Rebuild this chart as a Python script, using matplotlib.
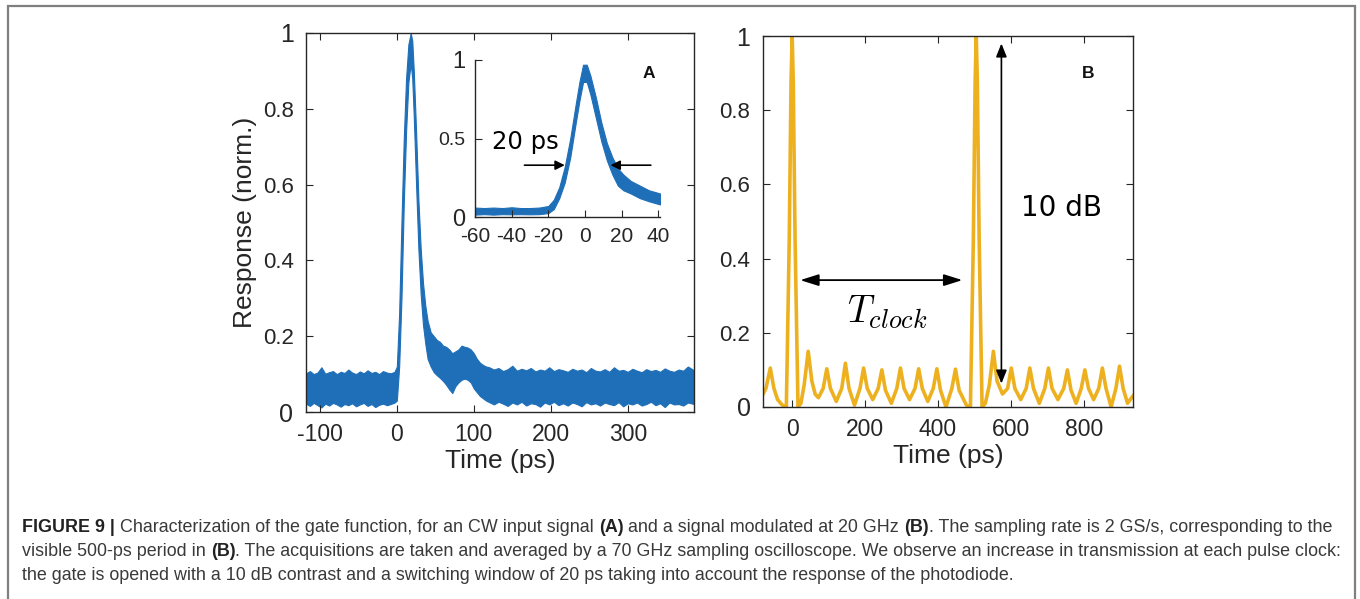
import matplotlib
matplotlib.use('Agg')
import matplotlib.pyplot as plt
from matplotlib.patches import Rectangle

plt.rcParams['mathtext.fontset'] = 'cm'
plt.rcParams['font.family'] = ['Liberation Sans', 'DejaVu Sans']

W, H = 1360, 599
BLUE = '#1f6fb8'
GOLD = '#EDB120'
AXC = '#262626'

# ---------------- Panel A (main): envelope of the noisy trace ----------------
A_t = [-118, -113, -108, -103, -98, -93, -88, -83, -78, -73, -68, -63, -58, -53, -48, -43,
       -38, -33, -28, -23, -18, -13, -8, -3,
       0, 3, 6, 9, 12, 15, 18, 20, 22, 25, 28, 31, 34, 37, 40, 44, 48, 52, 56, 60, 64, 68,
       72, 76, 80, 84, 88, 92, 96, 100, 104, 108, 112, 116,
       120, 126, 132, 138, 144, 150, 156, 162, 168, 174, 180, 186, 192, 198, 204, 210, 216,
       222, 228, 234, 240, 246, 252, 258, 264, 270, 276, 282, 288, 294, 300, 306, 312, 318,
       324, 330, 336, 342, 348, 354, 360, 366, 372, 378, 386]
A_hi = [0.102, 0.108, 0.100, 0.104, 0.118, 0.101, 0.105, 0.108, 0.100, 0.106, 0.103, 0.112, 0.104, 0.100, 0.107, 0.102,
        0.110, 0.103, 0.106, 0.100, 0.108, 0.104, 0.102, 0.106,
        0.12, 0.26, 0.50, 0.72, 0.88, 0.97, 1.00, 0.98, 0.90, 0.74, 0.56, 0.43, 0.34, 0.28, 0.24, 0.21, 0.20, 0.19, 0.185, 0.175, 0.172, 0.165,
        0.155, 0.16, 0.165, 0.175, 0.172, 0.17, 0.165, 0.155, 0.14, 0.13, 0.124, 0.12,
        0.118, 0.112, 0.116, 0.108, 0.113, 0.122, 0.109, 0.114, 0.110, 0.116, 0.107, 0.112, 0.109, 0.118, 0.108, 0.113, 0.110,
        0.106, 0.114, 0.109, 0.112, 0.105, 0.116, 0.109, 0.107, 0.113, 0.106, 0.118, 0.109, 0.111, 0.106, 0.114, 0.109, 0.105,
        0.113, 0.108, 0.111, 0.106, 0.115, 0.109, 0.106, 0.112, 0.109, 0.12, 0.11]
A_lo = [0.022, 0.016, 0.024, 0.018, 0.012, 0.022, 0.017, 0.024, 0.02, 0.014, 0.021, 0.018, 0.023, 0.015, 0.02, 0.024,
        0.016, 0.021, 0.013, 0.019, 0.022, 0.018, 0.021, 0.025,
        0.03, 0.12, 0.30, 0.55, 0.74, 0.87, 0.92, 0.88, 0.78, 0.60, 0.43, 0.31, 0.23, 0.18, 0.14, 0.12, 0.105, 0.097, 0.09, 0.082, 0.072, 0.06,
        0.05, 0.068, 0.078, 0.085, 0.088, 0.085, 0.078, 0.062, 0.052, 0.042, 0.036, 0.03,
        0.026, 0.02, 0.027, 0.022, 0.016, 0.025, 0.02, 0.027, 0.017, 0.023, 0.021, 0.014, 0.025, 0.02, 0.027, 0.018, 0.023,
        0.017, 0.025, 0.021, 0.015, 0.026, 0.02, 0.023, 0.017, 0.025, 0.021, 0.018, 0.026, 0.015, 0.023, 0.02, 0.025, 0.017,
        0.021, 0.027, 0.018, 0.023, 0.013, 0.025, 0.02, 0.021, 0.017, 0.025, 0.021]
A_xticks = [-100, 0, 100, 200, 300]
A_yticks = [0, 0.2, 0.4, 0.6, 0.8, 1]
A_yticklabels = ['0', '0.2', '0.4', '0.6', '0.8', '1']

# ---------------- Panel A inset ----------------
I_t = [-60, -55, -50, -45, -40, -35, -30, -25, -20, -17, -14, -11, -8, -5, -3, -1, 1, 3, 6, 9,
       12, 15, 18, 21, 25, 30, 35, 41]
I_hi = [0.06, 0.057, 0.06, 0.057, 0.062, 0.057, 0.057, 0.06, 0.07, 0.11, 0.19, 0.32, 0.50, 0.72, 0.86, 0.97, 0.97, 0.90, 0.76, 0.60,
        0.47, 0.38, 0.31, 0.27, 0.23, 0.20, 0.17, 0.15]
I_lo = [0.015, 0.018, 0.015, 0.018, 0.017, 0.018, 0.017, 0.018, 0.025, 0.05, 0.12, 0.22, 0.38, 0.60, 0.74, 0.86, 0.86, 0.78, 0.63, 0.48,
        0.36, 0.27, 0.20, 0.17, 0.15, 0.12, 0.10, 0.08]
I_xticks = [-60, -40, -20, 0, 20, 40]
I_yticks = [0, 0.5, 1]
I_yticklabels = ['0', '0.5', '1']

# ---------------- Panel B ----------------
B_t = [-80, -72, -60, -50, -40, -27, -16, -8, -3, 0, 3, 8, 16, 24, 33, 44, 54, 63, 72, 85,
       95, 105, 121, 136, 146, 156, 171, 186, 196, 206, 221, 236, 246, 256, 272, 287, 297, 307,
       322, 337, 347, 357, 372, 387, 397, 407, 422, 438, 448, 458, 478, 489, 497, 502, 505, 508,
       513, 521, 530, 541, 552, 562, 577, 591, 601, 611, 627, 642, 652, 662, 678, 693, 703, 713,
       729, 745, 755, 765, 779, 793, 803, 813, 827, 841, 851, 861, 875, 888, 898, 908, 920, 935]
B_v = [0.035, 0.05, 0.105, 0.05, 0.02, 0.005, 0.0, 0.45, 0.88, 1.0, 0.88, 0.45, 0.0, 0.01, 0.06, 0.15, 0.07, 0.035, 0.025, 0.05,
       0.103, 0.05, 0.015, 0.05, 0.118, 0.05, 0.005, 0.05, 0.105, 0.05, 0.02, 0.05, 0.10, 0.045, 0.01, 0.05, 0.105, 0.05,
       0.02, 0.05, 0.103, 0.05, 0.015, 0.05, 0.103, 0.045, 0.0, 0.05, 0.102, 0.045, 0.005, 0.0, 0.45, 0.88, 1.0, 0.88,
       0.45, 0.0, 0.01, 0.06, 0.15, 0.07, 0.035, 0.05, 0.105, 0.05, 0.02, 0.05, 0.105, 0.05, 0.01, 0.05, 0.105, 0.05,
       0.02, 0.05, 0.10, 0.045, 0.01, 0.05, 0.10, 0.05, 0.02, 0.05, 0.105, 0.05, 0.0, 0.05, 0.11, 0.05, 0.01, 0.03]
B_xticks = [0, 200, 400, 600, 800]
B_yticks = [0, 0.2, 0.4, 0.6, 0.8, 1]
B_yticklabels = ['0', '0.2', '0.4', '0.6', '0.8', '1']

fig = plt.figure(figsize=(W / 100, H / 100), dpi=100)
fig.patch.set_facecolor('white')


def style(ax, box=True):
    for s in ax.spines.values():
        s.set_color(AXC)
        s.set_linewidth(1.0)
    if not box:
        ax.spines['top'].set_visible(False)
        ax.spines['right'].set_visible(False)
    ax.tick_params(direction='in', length=5, width=0.8, colors=AXC,
                   top=box, right=box, labelcolor=AXC)


def size_labels(ax, big, small):
    for lab in ax.get_yticklabels():
        txt = lab.get_text()
        lab.set_fontsize(big if txt in ('0', '1') else small)


# Panel A main
axA = fig.add_axes([306 / W, 1 - 412 / H, 388 / W, 379 / H])
axA.fill_between(A_t, A_lo, A_hi, color=BLUE, edgecolor=BLUE, linewidth=0.8)
axA.set_xlim(-118, 386)
axA.set_ylim(0, 1)
axA.set_xticks(A_xticks)
axA.set_xticklabels([str(v) for v in A_xticks], fontsize=16.5)
axA.set_yticks(A_yticks)
axA.set_yticklabels(A_yticklabels)
style(axA)
size_labels(axA, 18, 16)
axA.tick_params(axis='y', pad=9)
axA.tick_params(axis='x', pad=8)
axA.set_xlabel('Time (ps)', fontsize=19, color=AXC, labelpad=2)
axA.set_ylabel('Response (norm.)', fontsize=19, color=AXC, labelpad=4)

# Inset
axI = fig.add_axes([475 / W, 1 - 217 / H, 185 / W, 157 / H])
axI.fill_between(I_t, I_lo, I_hi, color=BLUE, edgecolor=BLUE, linewidth=0.8)
axI.set_xlim(-60, 41)
axI.set_ylim(0, 1)
axI.set_xticks(I_xticks)
axI.set_xticklabels([str(v) for v in I_xticks], fontsize=15)
axI.set_yticks(I_yticks)
axI.set_yticklabels(I_yticklabels)
style(axI, box=False)
size_labels(axI, 17, 14)
axI.tick_params(axis='y', pad=7)
axI.tick_params(axis='x', pad=7)
axI.annotate('', xy=(-11, 0.33), xytext=(-33, 0.33),
             arrowprops=dict(arrowstyle='-|>', color='black', lw=1.2, mutation_scale=14,
                             shrinkA=0, shrinkB=0))
axI.annotate('', xy=(14, 0.33), xytext=(36, 0.33),
             arrowprops=dict(arrowstyle='-|>', color='black', lw=1.2, mutation_scale=14,
                             shrinkA=0, shrinkB=0))
axI.text(-32.7, 0.478, '20 ps', fontsize=17.5, family='DejaVu Sans', ha='center', va='center',
         color='black', clip_on=False)
fig.text(649 / W, 1 - 73 / H, 'A', fontsize=12.5, fontweight='bold', ha='center', va='center',
         color='#111111')

# Panel B
axB = fig.add_axes([763 / W, 1 - 407 / H, 370 / W, 371 / H])
axB.plot(B_t, B_v, color=GOLD, lw=2.6, solid_joinstyle='round')
axB.set_xlim(-80, 935)
axB.set_ylim(0, 1)
axB.set_xticks(B_xticks)
axB.set_xticklabels([str(v) for v in B_xticks], fontsize=16.5)
axB.set_yticks(B_yticks)
axB.set_yticklabels(B_yticklabels)
style(axB)
size_labels(axB, 18, 16)
axB.tick_params(axis='y', pad=9)
axB.tick_params(axis='x', pad=8)
axB.set_xlabel('Time (ps)', fontsize=19, color=AXC, labelpad=2)
axB.annotate('', xy=(574, 0.98), xytext=(574, 0.063),
             arrowprops=dict(arrowstyle='<|-|>,head_length=0.5,head_width=0.2', color='black', lw=1.2,
                             mutation_scale=16, shrinkA=0, shrinkB=0))
axB.annotate('', xy=(22, 0.342), xytext=(467, 0.342),
             arrowprops=dict(arrowstyle='<|-|>,head_length=0.7,head_width=0.22', color='black',
                             lw=1.3, mutation_scale=16, shrinkA=0, shrinkB=0))
axB.text(260, 0.255, r'$T_{clock}$', fontsize=27, ha='center', va='center', color='black')
axB.text(740, 0.536, '10 dB', fontsize=20, family='DejaVu Sans', ha='center', va='center',
         color='black')
fig.text(1088 / W, 1 - 73 / H, 'B', fontsize=12.5, fontweight='bold', ha='center', va='center',
         color='#111111')

# Outer frame
fig.add_artist(Rectangle((8 / W, -0.02), (1355 - 8) / W, 1.02 - 6 / H, transform=fig.transFigure,
                         fill=False, edgecolor='#7f7f7f', linewidth=1.6))

# Caption with mixed bold segments
caption = [
    [("FIGURE 9 | ", True), ("Characterization of the gate function, for an CW input signal ", False),
     ("(A)", True), (" and a signal modulated at 20 GHz ", False), ("(B)", True),
     (". The sampling rate is 2 GS/s, corresponding to the", False)],
    [("visible 500-ps period in ", False), ("(B)", True),
     (". The acquisitions are taken and averaged by a 70 GHz sampling oscilloscope. We observe an increase in transmission at each pulse clock:", False)],
    [("the gate is opened with a 10 dB contrast and a switching window of 20 ps taking into account the response of the photodiode.", False)],
]
cap_y = [527, 551, 575]
renderer = fig.canvas.get_renderer()


def draw_line(segs, y, fs, draw=True):
    x = 22.0
    arts = []
    for txt, bold in segs:
        t = fig.text(x / W, 1 - y / H, txt, fontsize=fs, fontweight='bold' if bold else 'normal',
                     color='#222222' if bold else '#3a3a3a', va='center', ha='left')
        bb = t.get_window_extent(renderer)
        x += bb.width
        arts.append(t)
    if not draw:
        for a in arts:
            a.remove()
    return x - 22.0


w10 = draw_line(caption[0], cap_y[0], 10, draw=False)
fs_cap = 10 * 1316.0 / w10
for segs, y in zip(caption, cap_y):
    draw_line(segs, y, fs_cap)

fig.savefig('out.png', dpi=100, facecolor='white')
